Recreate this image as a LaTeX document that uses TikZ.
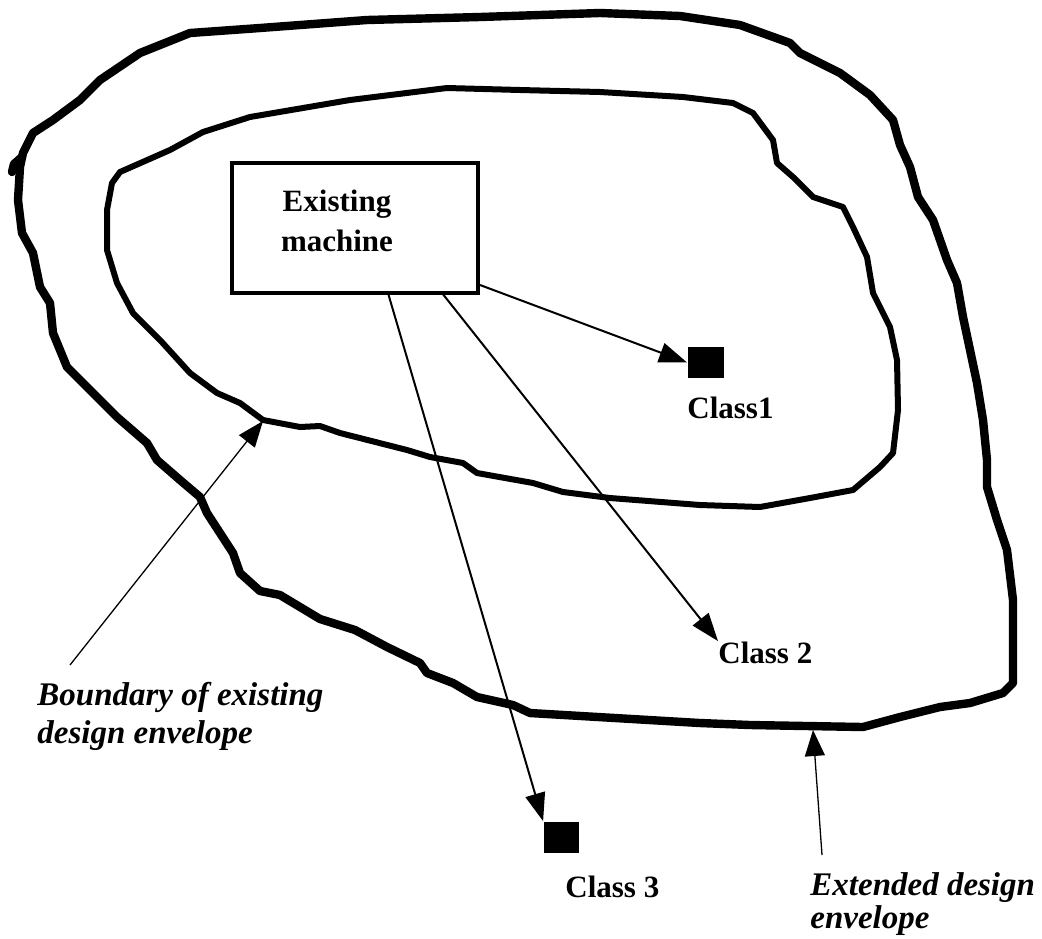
\documentclass[tikz,border=0pt]{standalone}
\usepackage{fontspec}
\setmainfont{Liberation Serif}
\usetikzlibrary{arrows.meta}
\tikzset{
  outerenv/.style={line width=4.2pt, line join=round, line cap=round},
  innerenv/.style={line width=3pt, line join=round, line cap=round},
  conn/.style={line width=1pt, -{Triangle[length=14pt,width=10pt]}},
  thinconn/.style={line width=0.65pt, -{Triangle[length=13pt,width=10pt]}},
  classbox/.style={fill=black, draw=none, inner sep=0pt},
  boldlbl/.style={font=\fontsize{15.5}{18}\selectfont\bfseries, inner sep=0pt},
  itlbl/.style={font=\fontsize{16.5}{19}\selectfont\bfseries\itshape, inner sep=0pt, align=left},
}
\begin{document}
\begin{tikzpicture}[x=0.5pt,y=-0.5pt]
\useasboundingbox (0,0) rectangle (1042,938);
% outer envelope
\draw[outerenv] (190,33) -- (260,28) -- (367,20) -- (480,17) -- (600,13) -- (680,16) -- (740,25)
 -- (790,43) -- (800,53) -- (840,73) -- (870,95) -- (893,120) -- (900,145) -- (910,167)
 -- (918,197) -- (933,220) -- (947,260) -- (957,283) -- (963,317) -- (970,350) -- (977,383)
 -- (983,420) -- (987,460) -- (987,487) -- (997,520) -- (1007,550) -- (1013,600) -- (1013,683)
 -- (1003,693) -- (970,703) -- (940,707) -- (900,717) -- (863,727) -- (750,725) -- (700,723)
 -- (530,713) -- (513,705) -- (477,697) -- (453,683) -- (427,673) -- (420,663) -- (387,647)
 -- (355,630) -- (320,619) -- (300,607) -- (280,595) -- (260,591) -- (240,573) -- (233,553)
 -- (220,533) -- (207,513) -- (200,497) -- (180,480) -- (157,460) -- (147,443) -- (117,417)
 -- (93,393) -- (67,367) -- (53,333) -- (50,303) -- (40,287) -- (33,253) -- (22,233)
 -- (18,200) -- (20,167) -- (23,153) -- (33,133) -- (53,120) -- (80,100) -- (100,80)
 -- (140,53) -- cycle;
\draw[outerenv] (22,157) -- (14,164) -- (12,172);
% inner envelope
\draw[innerenv] (350,100) -- (447,88) -- (520,90) -- (600,92) -- (683,97) -- (733,103)
 -- (753,113) -- (773,140) -- (777,163) -- (793,177) -- (813,197) -- (843,207) -- (853,227)
 -- (867,257) -- (873,293) -- (890,327) -- (897,360) -- (898,410) -- (893,453) -- (880,467)
 -- (853,490) -- (810,498) -- (760,507) -- (700,505) -- (610,498) -- (563,492) -- (533,483)
 -- (477,473) -- (463,463) -- (430,457) -- (407,450) -- (340,433) -- (320,426) -- (300,427)
 -- (263,420) -- (240,403) -- (217,393) -- (190,373) -- (160,340) -- (133,313) -- (117,283)
 -- (107,250) -- (107,210) -- (112,183) -- (120,172) -- (170,150) -- (203,132) -- (250,117)
 -- cycle;
% existing machine box
\node[draw, line width=2pt, minimum width=123pt, minimum height=65pt, inner sep=0pt] (machine) at (355,228) {};
\node[boldlbl, align=center] (machinetext) at (337,221) {Existing\\[2pt]machine};
% class markers
\node[classbox, minimum width=18pt, minimum height=15.5pt] (c1) at (705.5,362.5) {};
\node[classbox, minimum width=17.5pt, minimum height=15.5pt] (c3) at (561,837) {};
\node[boldlbl, anchor=base west] (c1t) at (687,418) {Class1};
\node[boldlbl, anchor=base west] (c2t) at (718,663) {Class 2};
\node[boldlbl, anchor=base west] (c3t) at (565,897) {Class 3};
% connectors
\coordinate (m1) at (480,285);
\coordinate (m2) at (442,293);
\coordinate (m3) at (388,293);
\draw[conn] (m1) -- (c1.west);
\draw[conn] (m2) -- (c2t.north west);
\draw[conn] (m3) -- (c3.north west);
% annotation labels (anchor = baseline of last line)
\node[itlbl, anchor=base west] (blbl) at (37,743) {Boundary of existing\\design envelope};
\node[itlbl, anchor=base west] (elbl) at (810,928) {Extended design\\[-2.5pt]envelope};
\coordinate (bstart) at (70,665);
\coordinate (bend) at (263,421);
\coordinate (estart) at (822,855);
\coordinate (eend) at (813,730);
\draw[thinconn] (bstart) -- (bend);
\draw[thinconn] (estart) -- (eend);
\end{tikzpicture}
\end{document}
